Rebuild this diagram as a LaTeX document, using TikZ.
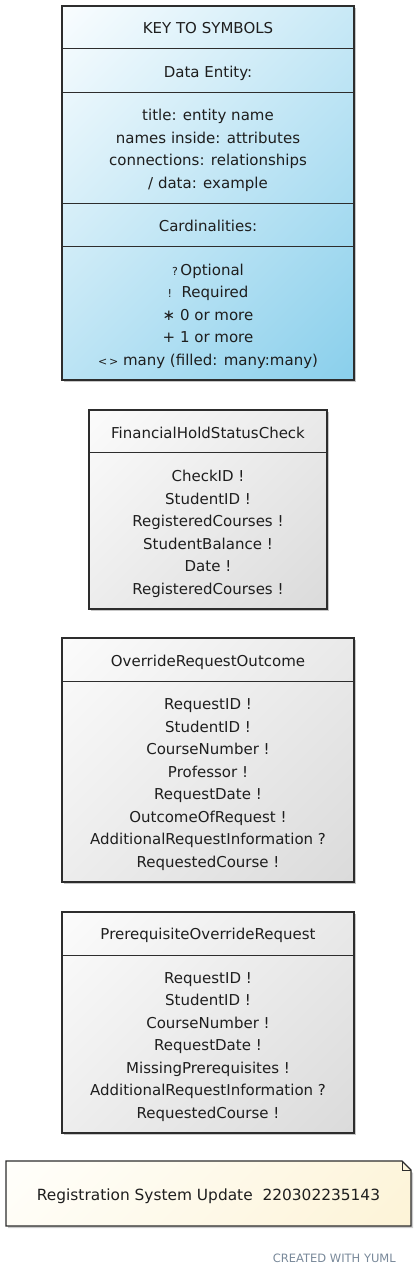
\documentclass[tikz,border=0pt]{standalone}
\usepackage{fontspec}
\setmainfont{DejaVu Sans}
\usetikzlibrary{shadings,shadows}
\definecolor{keyblue}{RGB}{135,206,235}
\definecolor{keylight}{RGB}{252,254,255}
\definecolor{entlight}{RGB}{252,252,252}
\definecolor{entdark}{RGB}{218,218,218}
\definecolor{notelight}{RGB}{255,255,252}
\definecolor{notedark}{RGB}{253,243,214}
\definecolor{edge}{RGB}{45,45,45}
\definecolor{txt}{RGB}{30,30,30}
\definecolor{yuml}{RGB}{120,136,153}
\pgfdeclareverticalshading{keyshade}{100bp}{color(0bp)=(keyblue); color(13bp)=(keyblue); color(87bp)=(keylight); color(100bp)=(keylight)}
\pgfdeclareverticalshading{entshade}{100bp}{color(0bp)=(entdark); color(13bp)=(entdark); color(87bp)=(entlight); color(100bp)=(entlight)}
\pgfdeclareverticalshading{noteshade}{100bp}{color(0bp)=(notedark); color(13bp)=(notedark); color(87bp)=(notelight); color(100bp)=(notelight)}
\tikzset{
  boxbase/.style={draw=edge, line width=1.3pt, inner sep=0pt,
    drop shadow={shadow xshift=2pt, shadow yshift=-2pt, opacity=0.22, fill=black}},
  keybox/.style={boxbase, shading=keyshade, shading angle=45},
  entbox/.style={boxbase, shading=entshade, shading angle=45},
  lbl/.style={text=txt, font=\fontsize{15}{18}\selectfont, inner sep=0pt, anchor=center,
    text height=11pt, text depth=0pt},
  sep/.style={draw=edge, line width=1.3pt},
}
\begin{document}
\begin{tikzpicture}[x=1pt,y=-1pt]
\useasboundingbox (0,0) rectangle (417,1276);

% ---------- KEY ----------
\node[keybox, minimum width=292pt, minimum height=374pt] (key) at (208,193) {};
\draw[sep] ([yshift=-43pt]key.north west) -- ([yshift=-43pt]key.north east);
\draw[sep] ([yshift=-87pt]key.north west) -- ([yshift=-87pt]key.north east);
\draw[sep] ([yshift=-198pt]key.north west) -- ([yshift=-198pt]key.north east);
\draw[sep] ([yshift=-241pt]key.north west) -- ([yshift=-241pt]key.north east);
\node[lbl] (k0) at (208,28) {KEY TO SYMBOLS};
\node[lbl] (k1) at (208,72) {Data Entity:};
\node[lbl] (k2) at (208,115) {title: entity name};
\node[lbl] (k3) at (208,138) {names inside: attributes};
\node[lbl] (k4) at (208,160) {connections: relationships};
\node[lbl] (k5) at (208,183) {/ data: example};
\node[lbl] (k6) at (208,226) {Cardinalities:};
\node[lbl] (k7) at (208,270) {{\fontsize{11}{13}\selectfont ?}\,Optional};
\node[lbl] (k8) at (208,292) {{\fontsize{11}{13}\selectfont !}\ \ Required};
\node[lbl] (k9) at (208,315) {∗ 0 or more};
\node[lbl] (k10) at (208,337) {+\ 1 or more};
\node[lbl] (k11) at (208,360) {{\fontsize{11}{13}\selectfont <\,>}\ many (filled: many:many)};

% ---------- FinancialHoldStatusCheck ----------
\node[entbox, minimum width=238pt, minimum height=199pt] (fin) at (208,509.5) {};
\draw[sep] ([yshift=-43pt]fin.north west) -- ([yshift=-43pt]fin.north east);
\node[lbl] (f0) at (208,433) {FinancialHoldStatusCheck};
\node[lbl] (f1) at (208,476) {CheckID !};
\node[lbl] (f2) at (208,499) {StudentID !};
\node[lbl] (f3) at (208,521) {RegisteredCourses !};
\node[lbl] (f4) at (208,544) {StudentBalance !};
\node[lbl] (f5) at (208,566) {Date !};
\node[lbl] (f6) at (208,589) {RegisteredCourses !};

% ---------- OverrideRequestOutcome ----------
\node[entbox, minimum width=292pt, minimum height=244pt] (out) at (208,760) {};
\draw[sep] ([yshift=-44pt]out.north west) -- ([yshift=-44pt]out.north east);
\node[lbl] (o0) at (208,661) {OverrideRequestOutcome};
\node[lbl] (o1) at (208,704) {RequestID !};
\node[lbl] (o2) at (208,727) {StudentID !};
\node[lbl] (o3) at (208,749) {CourseNumber !};
\node[lbl] (o4) at (208,772) {Professor !};
\node[lbl] (o5) at (208,794) {RequestDate !};
\node[lbl] (o6) at (208,817) {OutcomeOfRequest !};
\node[lbl] (o7) at (208,839) {AdditionalRequestInformation ?};
\node[lbl] (o8) at (208,862) {RequestedCourse !};

% ---------- PrerequisiteOverrideRequest ----------
\node[entbox, minimum width=292pt, minimum height=221pt] (pre) at (208,1022.5) {};
\draw[sep] ([yshift=-44pt]pre.north west) -- ([yshift=-44pt]pre.north east);
\node[lbl] (p0) at (208,934) {PrerequisiteOverrideRequest};
\node[lbl] (p1) at (208,978) {RequestID !};
\node[lbl] (p2) at (208,1000) {StudentID !};
\node[lbl] (p3) at (208,1023) {CourseNumber !};
\node[lbl] (p4) at (208,1045) {RequestDate !};
\node[lbl] (p5) at (208,1068) {MissingPrerequisites !};
\node[lbl] (p6) at (208,1090) {AdditionalRequestInformation ?};
\node[lbl] (p7) at (208,1113) {RequestedCourse !};

% ---------- Note ----------
\coordinate (nNW) at (6,1161);
\coordinate (nSE) at (411,1226);
\fill[black, opacity=0.2] (8,1163) -- (403,1163) -- (413,1173) -- (413,1228) -- (8,1228) -- cycle;
\shade[shading=noteshade, shading angle=45]
  (nNW) -- (402,1161) -- (411,1170) -- (nSE) -- (6,1226) -- cycle;
\draw[draw=edge, line width=1.3pt, line join=miter]
  (nNW) -- (402,1161) -- (411,1170) -- (nSE) -- (6,1226) -- cycle;
\draw[draw=edge, line width=0.8pt] (402,1161) -- (402,1170) -- (411,1170);
\node[lbl, font=\fontsize{15.4}{18}\selectfont] (note) at (208.5,1195) {Registration System Update\ \ 220302235143};

% ---------- footer ----------
\node[text=yuml, font=\fontsize{11.5}{13}\selectfont, inner sep=0pt, anchor=east] (yumlmark) at (396,1258) {CREATED WITH YUML};
\end{tikzpicture}
\end{document}
